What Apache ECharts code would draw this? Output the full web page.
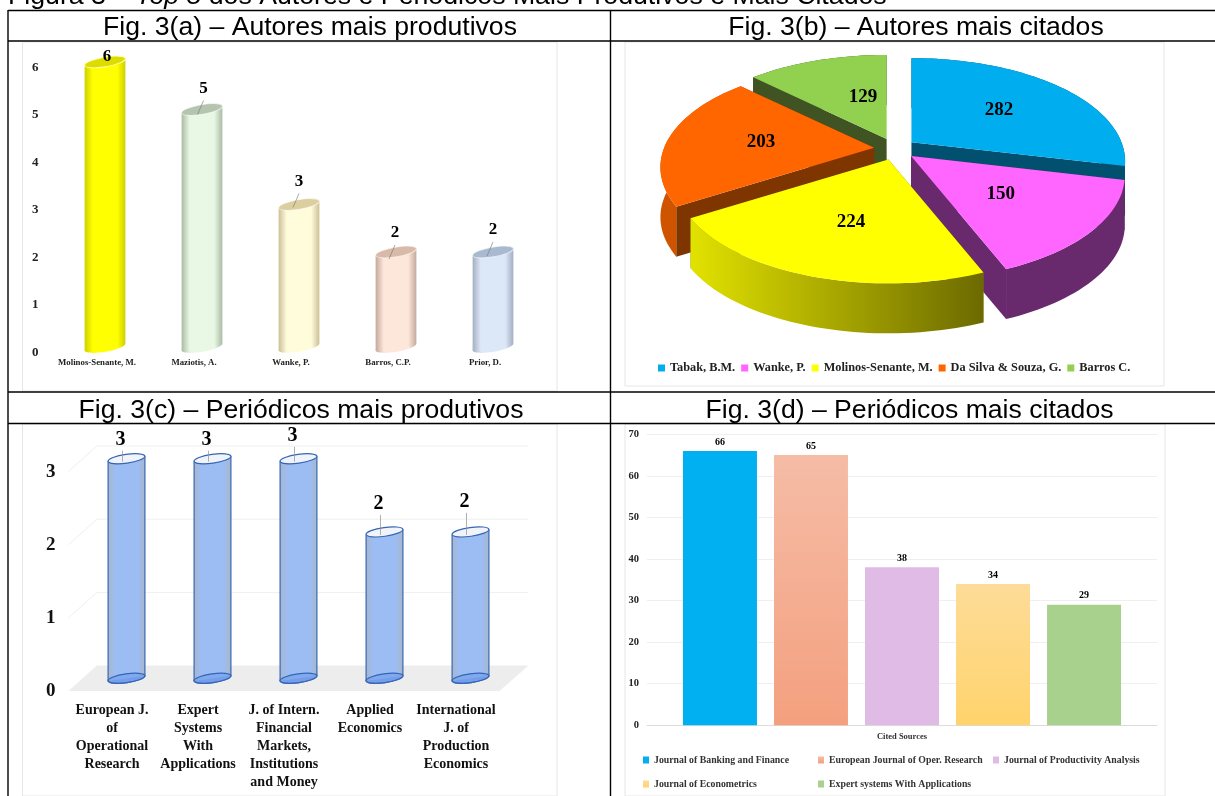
<!DOCTYPE html>
<html><head><meta charset="utf-8">
<style>html,body{margin:0;padding:0;background:#fff;overflow:hidden}#c{width:1215px;height:796px}</style>
<script src="https://cdn.jsdelivr.net/npm/echarts@6/dist/echarts.min.js"></script>
</head><body><div id="c"></div>
<script>
// ---------- data ----------
const authorsProductive = ['Molinos-Senante, M.', 'Maziotis, A.', 'Wanke, P.', 'Barros, C.P.', 'Prior, D.'];
const authorsProductiveValues = [6, 5, 3, 2, 2];
const authorsCited = ['Tabak, B.M.', 'Wanke, P.', 'Molinos-Senante, M.', 'Da Silva & Souza, G.', 'Barros C.'];
const authorsCitedValues = [282, 150, 224, 203, 129];
const journalsProductive = ['European J.\nof\nOperational\nResearch', 'Expert\nSystems\nWith\nApplications', 'J. of Intern.\nFinancial\nMarkets,\nInstitutions\nand Money', 'Applied\nEconomics', 'International\nJ. of\nProduction\nEconomics'];
const journalsProductiveValues = [3, 3, 3, 2, 2];
const journalsCited = ['Journal of Banking and Finance', 'European Journal of Oper. Research', 'Journal of Productivity Analysis', 'Journal of Econometrics', 'Expert systems With Applications'];
const journalsCitedValues = [66, 65, 38, 34, 29];
const captions = ['Fig. 3(a) – Autores mais produtivos', 'Fig. 3(b) – Autores mais citados', 'Fig. 3(c) – Periódicos mais produtivos', 'Fig. 3(d) – Periódicos mais citados'];

// ---------- styles ----------
const SERIF = '"Liberation Serif", serif', SANS = '"Liberation Sans", Arial, sans-serif';
const aMid = ['#ffff00', '#e9f8e4', '#fffcdc', '#fde6da', '#dce8f8'];
const aEdge = ['#cfcf00', '#a9bba5', '#cdbf95', '#c4a99c', '#a3afc2'];
const aTop = ['#dcdc00', '#b4c4ae', '#dccf9f', '#d9b9a8', '#a9bad0'];
const aLabelLift = [5, 21, 23, 19, 22];
const cLabelLift = [19, 19, 23, 28, 30];
const pieTop = ['#00aeef', '#ff66ff', '#ffff00', '#ff6600', '#92d050'];
const pieSide = ['#02506f', '#682a6c', '#7c7a00', '#7f3500', '#3f5323'];
const pieOuter = ['#02506f', '#682a6c', null, '#cf5400', '#3f5323'];
const pieNudge = [[-6, 4], [-2, 1], [0, 8], [6, 0], [24, 11]];
const dColors = [
  '#00b0f0',
  { type: 'linear', x: 0, y: 0, x2: 0, y2: 1, colorStops: [{ offset: 0, color: '#f5bca6' }, { offset: 1, color: '#f4a07f' }] },
  '#e0bbe6',
  { type: 'linear', x: 0, y: 0, x2: 0, y2: 1, colorStops: [{ offset: 0, color: '#fddc98' }, { offset: 1, color: '#ffd36c' }] },
  '#a9d18e'
];
const PIE = { cx: 895, cy: 149, R: 210, q: 0.495, k: 0.192, depth: 50, burstX: 21, burstY: 11 };

// ---------- helpers ----------
function hGrad(edge, mid) {
  return { type: 'linear', x: 0, y: 0, x2: 1, y2: 0, colorStops: [{ offset: 0, color: edge }, { offset: 0.2, color: mid }, { offset: 0.8, color: mid }, { offset: 1, color: edge }] };
}
function toPairs(vals) { return vals.map((v, i) => [i, v]); }
function tiltedBody(top, base, rx, rot) {
  const dx = rx, dy = rx * Math.tan(rot);
  return [[top[0] - dx, top[1] + dy], [top[0] + dx, top[1] - dy], [base[0] + dx, base[1] - dy], [base[0] - dx, base[1] + dy]];
}

function cylinderA(params, api) {
  const i = api.value(0), top = api.coord([i, api.value(1)]), base = api.coord([i, 0]);
  const w = api.size([1, 0])[0] * 0.42, rot = 0.17, rx = w / 2, ex = rx / Math.cos(rot), ry = 4.8, fill = hGrad(aEdge[i], aMid[i]);
  const lx = top[0] + [2, 1.5, 0, -1, 0][i], ly = top[1] - aLabelLift[i];
  const kids = [
    { type: 'ellipse', shape: { cx: base[0], cy: base[1], rx: ex, ry }, rotation: rot, originX: base[0], originY: base[1], style: { fill } },
    { type: 'polygon', shape: { points: tiltedBody(top, base, rx, rot) }, style: { fill } },
    { type: 'ellipse', shape: { cx: top[0], cy: top[1], rx: ex, ry }, rotation: rot, originX: top[0], originY: top[1], style: { fill: aTop[i], stroke: i === 0 ? '#ffffb0' : 'rgba(255,255,255,.6)', lineWidth: 1 } }
  ];
  if (i > 0) kids.push({ type: 'line', shape: { x1: lx, y1: ly + 12, x2: lx - 6, y2: ly + 26 }, style: { stroke: 'rgba(120,125,120,.65)', lineWidth: 1 } });
  kids.push({ type: 'text', style: { text: String(api.value(1)), x: lx, y: ly, align: 'center', verticalAlign: 'middle', fill: '#000', font: 'bold 17px ' + SERIF } });
  return { type: 'group', children: kids };
}

function cylinderC(params, api) {
  const i = api.value(0), top = api.coord([i, api.value(1)]), base = api.coord([i, 0]);
  const w = api.size([1, 0])[0] * 0.428, rot = 0.14, rx = w / 2, ex = rx / Math.cos(rot), ry = 4.4, line = '#3566b4';
  const fill = hGrad('#a9b6cd', '#9bbdf4');
  const lx = top[0] - 6, ly = top[1] - cLabelLift[i];
  const ell = (c, f) => ({ type: 'ellipse', shape: { cx: c[0], cy: c[1], rx: ex, ry }, rotation: rot, originX: c[0], originY: c[1], style: { fill: f, stroke: line, lineWidth: 1.2 } });
  return { type: 'group', children: [
    ell(base, '#7da4ea'),
    { type: 'polygon', shape: { points: tiltedBody(top, base, rx, rot) }, style: { fill } },
    { type: 'line', shape: { x1: top[0] - rx, y1: top[1] + rx * Math.tan(rot), x2: base[0] - rx, y2: base[1] + rx * Math.tan(rot) }, style: { stroke: line, lineWidth: 1.2 } },
    { type: 'line', shape: { x1: top[0] + rx, y1: top[1] - rx * Math.tan(rot), x2: base[0] + rx, y2: base[1] - rx * Math.tan(rot) }, style: { stroke: line, lineWidth: 1.2 } },
    ell(base, 'rgba(110,155,235,.6)'),
    ell(top, '#f0f3f9'),
    { type: 'line', shape: { x1: lx + 2, y1: ly + 11, x2: lx + 2, y2: top[1] + 3 }, style: { stroke: 'rgba(150,150,150,.75)', lineWidth: 1 } },
    { type: 'text', style: { text: String(api.value(1)), x: lx, y: ly, align: 'center', verticalAlign: 'middle', fill: '#000', font: 'bold 20px ' + SERIF } }
  ] };
}

function floorC(params, api) {
  const v = api.value(0), n = journalsProductive.length - 1;
  const y = api.coord([0, v])[1], xL = api.coord([0, v])[0], xR = api.coord([n, v])[0], d = 12.7;
  const kids = [];
  if (v === 0) kids.push({ type: 'polygon', shape: { points: [[xL - 58, y + d], [xL - 29.5, y - d], [xR + 58, y - d], [xR + 29, y + d]] }, style: { fill: '#ededed' } });
  else kids.push(
    { type: 'polyline', shape: { points: [[xL - 58, y + d], [xL - 29.5, y - d], [xR + 58, y - d]] }, style: { fill: 'none', stroke: '#efefef', lineWidth: 1 } }
  );
  return { type: 'group', children: kids };
}

function pieProject(theta, f, ax, ay) {
  const s = Math.sin(theta), c = Math.cos(theta), p = 1 - PIE.k * f * c;
  return [ax + PIE.R * f * s * p, ay - PIE.R * PIE.q * f * c * p];
}
const pieTotal = authorsCitedValues.reduce((a, b) => a + b, 0);
const pieAngles = []; authorsCitedValues.reduce((acc, v) => { pieAngles.push([acc, acc + v]); return acc + v; }, 0);

function pieSlice(idx) {
  return function () {
    const a1 = pieAngles[idx][0] / pieTotal * 2 * Math.PI, a2 = pieAngles[idx][1] / pieTotal * 2 * Math.PI, mid = (a1 + a2) / 2;
    const ax = PIE.cx + PIE.burstX * Math.sin(mid), ay = PIE.cy - PIE.burstY * Math.cos(mid);
    const arc = [];
    const steps = Math.ceil((a2 - a1) / 0.03);
    for (let s = 0; s <= steps; s++) arc.push(pieProject(a1 + (a2 - a1) * s / steps, 1, ax, ay));
    const D = PIE.depth, down = p => [p[0], p[1] + D];
    const first = arc[0], last = arc[arc.length - 1];
    const outerFill = pieOuter[idx] || { type: 'linear', x: 0, y: 0, x2: 1, y2: 0, colorStops: [{ offset: 0, color: '#e2e200' }, { offset: 1, color: '#6c6a00' }] };
    const lab = [ax + PIE.R * 0.57 * Math.sin(mid) + pieNudge[idx][0], ay - PIE.R * PIE.q * 0.55 * Math.cos(mid) + pieNudge[idx][1]];
    return { type: 'group', children: [
      { type: 'polygon', shape: { points: [[ax, ay], first, down(first), [ax, ay + D]] }, style: { fill: pieSide[idx] } },
      { type: 'polygon', shape: { points: [[ax, ay], last, down(last), [ax, ay + D]] }, style: { fill: pieSide[idx] } },
      { type: 'polygon', shape: { points: arc.concat(arc.slice().reverse().map(down)) }, style: { fill: outerFill } },
      { type: 'polygon', shape: { points: [[ax, ay]].concat(arc) }, style: { fill: pieTop[idx] } },
      { type: 'text', style: { text: String(authorsCitedValues[idx]), x: lab[0], y: lab[1], align: 'center', verticalAlign: 'middle', fill: '#000', font: 'bold 19px ' + SERIF } }
    ] };
  };
}

// ---------- page frame ----------
const frame = [];
[[22.5, 42, 534.5, 349], [625, 42, 539, 344], [22.5, 424, 534.5, 372], [625, 424, 540, 372]].forEach(r =>
  frame.push({ type: 'rect', z: -1, silent: true, shape: { x: r[0], y: r[1], width: r[2], height: r[3] }, style: { fill: '#fff', stroke: '#e6e6e6', lineWidth: 1 } }));
[[8, 10.5, 1215, 10.5], [8, 41, 1215, 41], [8, 392, 1215, 392], [8, 423.5, 1215, 423.5], [8, 10, 8, 796], [610.5, 10, 610.5, 796]].forEach(l =>
  frame.push({ type: 'line', z: 10, silent: true, shape: { x1: l[0], y1: l[1], x2: l[2], y2: l[3] }, style: { stroke: '#000', lineWidth: 1.4 } }));

// ---------- option ----------
const capBase = { fontFamily: SANS, fontSize: 26.6, fontWeight: 'normal', color: '#000' };
const capPos = [[310, 27.5], [916, 27.5], [301, 410.5], [909.5, 410.5]];
const title = captions.map((t, i) => ({ text: t, left: capPos[i][0], top: capPos[i][1], textAlign: 'center', textVerticalAlign: 'middle', padding: 0, textStyle: capBase }));
title.push({
  text: '{a|Figura 3 – }{b|Top 5}{a| dos Autores e Periódicos Mais Produtivos e Mais Citados}',
  left: 8, top: -3, textVerticalAlign: 'middle', padding: 0,
  textStyle: { fontWeight: 'normal', rich: { a: { fontFamily: SANS, fontSize: 26.7, fontWeight: 'normal', color: '#000' }, b: { fontFamily: SANS, fontSize: 26.7, fontWeight: 'normal', fontStyle: 'italic', color: '#000' } } }
});

const series = [
  { type: 'custom', name: 'Fig3a', xAxisIndex: 0, yAxisIndex: 0, clip: false, silent: true, data: toPairs(authorsProductiveValues), encode: { x: 0, y: 1 }, renderItem: cylinderA },
  { type: 'custom', name: 'Fig3cFloor', xAxisIndex: 1, yAxisIndex: 1, clip: false, silent: true, z: 1, data: [0, 1, 2, 3].map(v => [v]), encode: { y: 0 }, renderItem: floorC },
  { type: 'custom', name: 'Fig3c', xAxisIndex: 1, yAxisIndex: 1, clip: false, silent: true, z: 2, data: toPairs(journalsProductiveValues), encode: { x: 0, y: 1 }, renderItem: cylinderC }
];
authorsCited.map((n, i) => i)
  .sort((p, r) => Math.cos((pieAngles[r][0] + pieAngles[r][1]) / pieTotal * Math.PI) - Math.cos((pieAngles[p][0] + pieAngles[p][1]) / pieTotal * Math.PI))
  .forEach((i, rank) => series.push({
    type: 'custom', coordinateSystem: 'none', name: authorsCited[i], silent: true, z: 2 + rank,
    itemStyle: { color: pieTop[i] }, data: [[authorsCitedValues[i]]], renderItem: pieSlice(i)
  }));
journalsCited.forEach((n, i) => series.push({
  type: 'bar', name: n, xAxisIndex: 2, yAxisIndex: 2, barWidth: 74, barGap: '23%', silent: true,
  itemStyle: { color: dColors[i] }, data: [journalsCitedValues[i]],
  label: { show: true, position: 'top', distance: 4, fontFamily: SERIF, fontWeight: 'bold', fontSize: 10, color: '#000' }
}));

const legendD = {
  orient: 'vertical', top: 755, itemWidth: 6, itemHeight: 7, itemGap: 14, icon: 'rect', padding: 0, selectedMode: false,
  textStyle: { fontFamily: SERIF, fontWeight: 'bold', fontSize: 9.8, color: '#333' }
};
const option = {
  animation: false, backgroundColor: '#fff',
  title,
  graphic: { elements: frame },
  legend: [
    { data: authorsCited, top: 362, left: 658, itemWidth: 7, itemHeight: 7, itemGap: 6, icon: 'rect', padding: 0, selectedMode: false,
      textStyle: { fontFamily: SERIF, fontWeight: 'bold', fontSize: 12.3, color: '#222' } },
    Object.assign({ data: [journalsCited[0], journalsCited[3]], left: 643 }, legendD),
    Object.assign({ data: [journalsCited[1], journalsCited[4]], left: 818 }, legendD),
    Object.assign({ data: [journalsCited[2]], left: 993 }, legendD)
  ],
  grid: [
    { left: 56.5, top: 62, width: 485, height: 285 },
    { left: 83.5, top: 458.7, width: 430, height: 219.6 },
    { left: 647, top: 434.3, width: 510, height: 291 }
  ],
  xAxis: [
    { type: 'category', gridIndex: 0, data: authorsProductive, axisLine: { show: false }, axisTick: { show: false },
      axisLabel: { interval: 0, margin: 11, padding: [0, 16, 0, 0], fontFamily: SERIF, fontWeight: 'bold', fontSize: 8.8, color: '#222' } },
    { type: 'category', gridIndex: 1, data: journalsProductive, axisLine: { show: false }, axisTick: { show: false },
      axisLabel: { interval: 0, margin: 23, padding: [0, 29, 0, 0], fontFamily: SERIF, fontWeight: 'bold', fontSize: 14, lineHeight: 18, color: '#111' } },
    { type: 'category', gridIndex: 2, data: ['Cited Sources'], axisLine: { lineStyle: { color: '#dcdcdc' } }, axisTick: { show: false },
      axisLabel: { margin: 7, fontFamily: SERIF, fontWeight: 'bold', fontSize: 8.5, color: '#333' } }
  ],
  yAxis: [
    { type: 'value', gridIndex: 0, min: 0, max: 6, interval: 1, axisLine: { show: false }, axisTick: { show: false }, splitLine: { show: false },
      axisLabel: { margin: 18, verticalAlign: 'top', lineHeight: 11, fontFamily: SERIF, fontWeight: 'bold', fontSize: 13, color: '#222' } },
    { type: 'value', gridIndex: 1, min: 0, max: 3, interval: 1, axisLine: { show: false }, axisTick: { show: false }, splitLine: { show: false },
      axisLabel: { margin: 28, verticalAlign: 'top', lineHeight: 26, fontFamily: SERIF, fontWeight: 'bold', fontSize: 19, color: '#111' } },
    { type: 'value', gridIndex: 2, min: 0, max: 70, interval: 10, axisLine: { show: false }, axisTick: { show: false }, splitLine: { lineStyle: { color: '#efefef' } },
      axisLabel: { margin: 8, fontFamily: SERIF, fontWeight: 'bold', fontSize: 10.5, color: '#222' } }
  ],
  series
};
echarts.init(document.getElementById('c')).setOption(option);
</script></body></html>
